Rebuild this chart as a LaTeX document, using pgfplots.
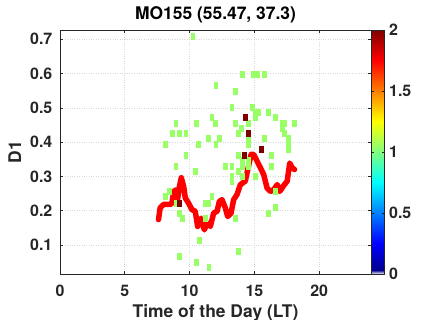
\documentclass[border=0pt]{standalone}
\usepackage{pgfplots}
\pgfplotsset{compat=1.18}
\usepackage{fontspec}
\setmainfont{TeX Gyre Heros}
\definecolor{axgray}{RGB}{38,38,38}
\begin{document}
\begin{tikzpicture}
\begin{axis}[
  name=main,
  scale only axis,
  width=311bp, height=244bp,
  xmin=0, xmax=24, ymin=0.0152, ymax=0.727,
  xtick={0,5,10,15,20}, ytick={0.1,0.2,0.3,0.4,0.5,0.6,0.7},
  yticklabels={0.1,0.2,0.3,0.4,0.5,0.6,0.7},
  /pgf/number format/assume math mode=true,
  axis line style={axgray, line width=0.6bp},
  tick style={axgray, line width=0.6bp},
  tick align=inside, major tick length=3bp,
  grid=major, grid style={dotted, gray!30, line width=0.6bp},
  tick label style={font=\fontsize{16}{16}\selectfont\bfseries, text=axgray},
  xticklabel style={anchor=base, yshift=-22.5bp},
  yticklabel style={anchor=east, inner sep=0pt, xshift=-7.5bp},
  title={MO155 (55.47, 37.3)},
  title style={font=\fontsize{17.5}{17.5}\selectfont\bfseries, anchor=base, at={(axis description cs:0.5,1)}, yshift=5bp},
  xlabel={Time of the Day (LT)},
  ylabel={D1},
  every axis x label/.style={at={(axis description cs:0.5,0)}, anchor=base, yshift=-43bp, font=\fontsize{17.5}{17.5}\selectfont\bfseries, text=axgray},
  every axis y label/.style={at={(axis description cs:-0.1254,0.5)}, anchor=base, rotate=90, font=\fontsize{17.5}{17.5}\selectfont\bfseries, text=axgray},
  colormap={wjet}{rgb255(0)=(255,255,255) rgb255(1)=(0,0,143) rgb255(8)=(0,0,255) rgb255(24)=(0,255,255) rgb255(40)=(255,255,0) rgb255(56)=(255,0,0) rgb255(64)=(128,0,0)},
  point meta min=0, point meta max=2,
  colorbar,
  colorbar style={
    at={(1,1)}, anchor=north west, xshift=7bp,
    width=13bp,
    ytick={0,0.5,1,1.5,2},
    yticklabels={0,0.5,1,1.5,2},
    axis line style={axgray, line width=0.6bp},
    ytick style={axgray, line width=0.6bp},
    major tick length=2.5bp,
    yticklabel style={anchor=west, inner sep=0pt, xshift=5bp, font=\fontsize{16}{16}\selectfont\bfseries, text=axgray},
  },
]
\addplot[scatter, only marks, mark=square*, mark size=3bp, mark options={xscale=0.65, line width=0pt},
  scatter/use mapped color={draw=mapped color, fill=mapped color}, point meta=explicit]
table[meta=c] {
x y c
10.26 0.708 1.05
14.05 0.596 1.05
14.95 0.596 1.05
15.21 0.596 1.05
15.77 0.596 1.05
12.04 0.566 1.05
13.53 0.549 1.05
13.27 0.502 1.05
14.83 0.502 1.05
15.10 0.487 1.05
15.35 0.487 1.05
16.06 0.487 1.05
11.73 0.473 1.05
15.08 0.473 1.05
16.63 0.473 1.05
8.95 0.455 1.05
10.50 0.455 1.05
12.00 0.455 1.05
13.53 0.455 1.05
14.55 0.455 1.05
17.15 0.455 1.05
17.35 0.455 1.05
18.10 0.455 1.05
14.00 0.440 1.05
17.15 0.440 1.05
8.69 0.425 1.05
9.20 0.425 1.05
9.72 0.425 1.05
13.80 0.425 1.05
17.35 0.425 1.05
11.47 0.410 1.05
12.30 0.410 1.05
14.54 0.410 1.05
15.80 0.410 1.05
17.60 0.410 1.05
8.17 0.393 1.05
10.72 0.393 1.05
12.04 0.393 1.05
14.54 0.393 1.05
17.60 0.393 1.05
17.60 0.378 1.05
9.72 0.362 1.05
13.80 0.362 1.05
16.30 0.362 1.05
14.05 0.345 1.05
14.54 0.345 1.05
8.95 0.330 1.05
12.76 0.330 1.05
13.27 0.330 1.05
14.05 0.330 1.05
14.54 0.330 1.05
16.30 0.330 1.05
10.47 0.315 1.05
13.80 0.315 1.05
13.27 0.300 1.05
14.05 0.300 1.05
15.08 0.300 1.05
13.27 0.285 1.05
8.43 0.256 1.05
16.60 0.256 1.05
8.17 0.240 1.05
11.73 0.240 1.05
8.95 0.222 1.05
11.20 0.222 1.05
11.47 0.222 1.05
16.60 0.208 1.05
9.20 0.191 1.05
16.06 0.191 1.05
9.46 0.177 1.05
11.20 0.177 1.05
13.53 0.177 1.05
10.75 0.113 1.05
13.80 0.082 1.05
9.20 0.066 1.05
10.50 0.050 1.05
11.50 0.035 1.05
14.30 0.473 2
14.54 0.425 2
14.25 0.362 2
15.55 0.378 2
9.20 0.222 2
};
\addplot[red, line width=5.5bp, line join=round, line cap=round, no marks] coordinates {
(7.60,0.174) (7.73,0.208) (7.99,0.218) (8.50,0.218) (8.64,0.222) (8.77,0.256)
(8.97,0.261) (9.07,0.232) (9.22,0.271) (9.36,0.296) (9.54,0.271) (9.67,0.237)
(9.92,0.222) (10.18,0.203) (10.44,0.198) (10.62,0.154) (10.88,0.178) (11.14,0.144)
(11.35,0.164) (11.60,0.154) (11.86,0.193) (12.12,0.198) (12.30,0.227) (12.50,0.232)
(12.76,0.208) (12.94,0.183) (13.20,0.193) (13.40,0.232) (13.66,0.247) (13.92,0.276)
(14.30,0.286) (14.49,0.320) (14.75,0.364) (14.95,0.364) (15.21,0.344) (15.47,0.325)
(15.72,0.305) (15.98,0.266) (16.24,0.256) (16.50,0.261) (16.76,0.276) (16.96,0.256)
(17.22,0.271) (17.53,0.286) (17.73,0.339) (17.92,0.325) (18.10,0.320)
};
\end{axis}
\pgfresetboundingbox
\path[use as bounding box] (-60bp,-46bp) rectangle (364bp,274bp);
\end{tikzpicture}
\end{document}
